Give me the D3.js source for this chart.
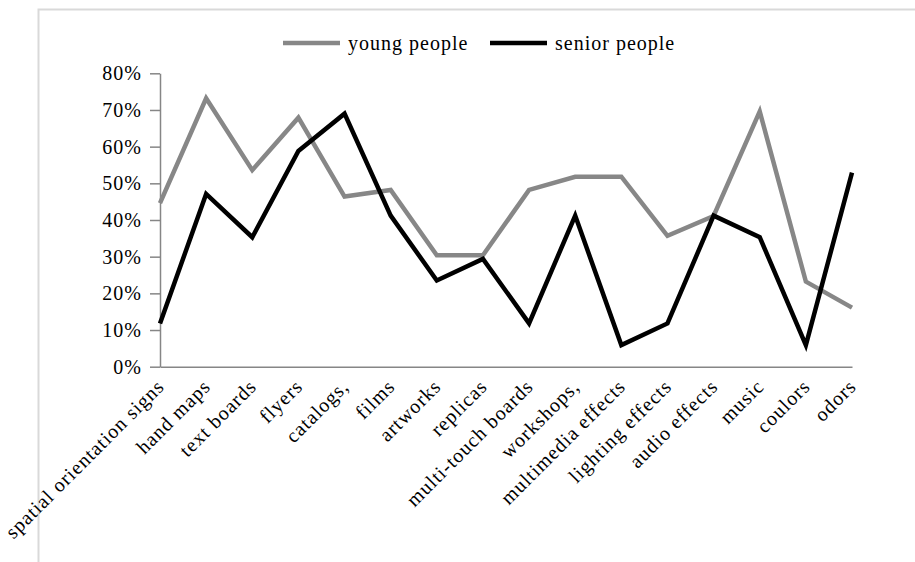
<!DOCTYPE html>
<html><head><meta charset="utf-8">
<script src="https://cdn.jsdelivr.net/npm/d3@7"></script>
<style>
body{margin:0;background:#fff;}
text{font-family:"Liberation Serif","Times New Roman",serif;}
</style></head>
<body><svg id="c" width="915" height="562"></svg>
<script>
const categories = ["spatial orientation signs","hand maps","text boards","flyers","catalogs,","films","artworks","replicas","multi-touch boards","workshops,","multimedia effects","lighting effects","audio effects","music","coulors","odors"];
const youngPeople = [0.446,0.732,0.536,0.679,0.464,0.482,0.304,0.304,0.482,0.518,0.518,0.357,0.411,0.696,0.232,0.161];
const seniorPeople = [0.118,0.471,0.353,0.588,0.690,0.412,0.235,0.294,0.118,0.412,0.059,0.118,0.412,0.353,0.059,0.529];
const seriesNames = ["young people","senior people"];
const yTicks = [0,0.1,0.2,0.3,0.4,0.5,0.6,0.7,0.8];

const svg = d3.select("#c");
svg.append("rect").attr("x",38.5).attr("y",9.5).attr("width",920).attr("height",600)
  .attr("fill","none").attr("stroke","#d9d9d9").attr("stroke-width",2);

const x = d3.scalePoint().domain(categories).range([160,852]);
const y = d3.scaleLinear().domain([0,0.8]).range([366.7,73.3]);
const axisColor = "#868686";

const yAxis = svg.append("g").attr("transform","translate(160,0)")
  .call(d3.axisLeft(y).tickValues(yTicks).tickFormat(d3.format(".0%")).tickSize(10).tickSizeOuter(0).tickPadding(8));
yAxis.selectAll("path,line").attr("stroke",axisColor).attr("stroke-width",1.5);
yAxis.selectAll("text").attr("font-size",20).attr("letter-spacing","1px").attr("fill","#000")
  .style("font-family","Liberation Serif");

const xAxis = svg.append("g").attr("transform","translate(0,366.7)")
  .call(d3.axisBottom(x).tickSize(0).tickSizeOuter(0));
xAxis.select(".domain").attr("stroke",axisColor).attr("stroke-width",1.5);
xAxis.selectAll("text")
  .attr("font-size",20).attr("letter-spacing","1px").attr("fill","#000")
  .style("font-family","Liberation Serif")
  .attr("text-anchor","end").attr("y",0).attr("dy",0)
  .attr("transform","translate(5,21) rotate(-45)");

const line = d3.line().x((d,i)=>x(categories[i])).y(d=>y(d));
const colors = ["#878787","#000000"];
[youngPeople, seniorPeople].forEach((s,k)=>{
  svg.append("path").datum(s).attr("d",line).attr("fill","none")
    .attr("stroke",colors[k]).attr("stroke-width",4.5).attr("stroke-linejoin","miter");
});

const legX = [283,490];
seriesNames.forEach((n,k)=>{
  svg.append("line").attr("x1",legX[k]).attr("x2",legX[k]+57).attr("y1",43).attr("y2",43)
    .attr("stroke",colors[k]).attr("stroke-width",4.5);
  svg.append("text").attr("x",legX[k]+65).attr("y",49.5).attr("font-size",20)
    .attr("letter-spacing","1px").attr("fill","#000").text(n);
});
</script></body></html>
